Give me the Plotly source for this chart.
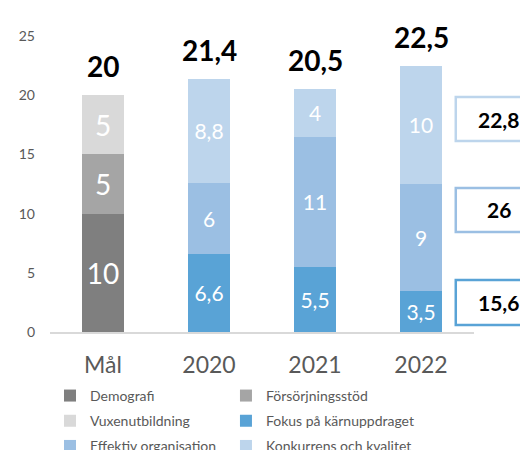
import plotly.graph_objects as go

categories = ["Mål", "2020", "2021", "2022"]
series_names = ["Demografi", "Försörjningsstöd", "Vuxenutbildning",
                "Fokus på kärnuppdraget", "Effektiv organisation", "Konkurrens och kvalitet"]
demografi = [10, None, None, None]
forsorjning = [5, None, None, None]
vuxen = [5, None, None, None]
fokus = [None, 6.6, 5.5, 3.5]
effektiv = [None, 6, 11, 9]
konkurrens = [None, 8.8, 4, 10]
totals = [20, 21.4, 20.5, 22.5]
box_values = [22.8, 26, 15.6]

colors = ["#7F7F7F", "#A5A5A5", "#D9D9D9", "#59A3D6", "#9BBFE3", "#BDD5EC"]
box_colors = ["#BDD5EC", "#9BBFE3", "#59A3D6"]
series = [demografi, forsorjning, vuxen, fokus, effektiv, konkurrens]
legend_ids = ["legend", "legend2", "legend", "legend2", "legend", "legend2"]
FONT = "Lato"


def fmt(v):
    if v is None:
        return ""
    return ("%g" % v).replace(".", ",")


fig = go.Figure()
for i, (name, vals) in enumerate(zip(series_names, series)):
    fig.add_trace(go.Bar(
        name=name, x=categories, y=vals,
        marker=dict(color=colors[i], line=dict(width=0)),
        text=[fmt(v) for v in vals],
        textposition="inside", insidetextanchor="middle",
        constraintext="none", textangle=0,
        textfont=dict(color="white", size=28 if i < 3 else 21, family=FONT),
        width=0.4, legend=legend_ids[i], legendgroup="g%d" % i,
        hoverinfo="skip",
    ))

for idx, t in enumerate(totals):
    fig.add_annotation(x=idx, y=t, text="<b>%s</b>" % fmt(t), showarrow=False,
                       yanchor="bottom", yshift=10,
                       font=dict(size=28, color="black", family=FONT))

box_y = [(16.13, 19.85), (8.45, 12.16), (0.59, 4.39)]
for (y0, y1), v, bc in zip(box_y, box_values, box_colors):
    fig.add_shape(type="rect", xref="paper", yref="y", x0=0.957, x1=1.4,
                  y0=y0, y1=y1, line=dict(color=bc, width=2.5),
                  fillcolor="white")
    fig.add_annotation(xref="paper", yref="y", x=1.058, y=(y0 + y1) / 2,
                       text="<b>%s</b>" % fmt(v), showarrow=False,
                       xanchor="center", yanchor="middle",
                       font=dict(size=21, color="black", family=FONT))

leg_common = dict(orientation="v", xanchor="left", yanchor="top",
                  tracegroupgap=4,
                  font=dict(size=14, color="#595959", family=FONT),
                  bgcolor="rgba(0,0,0,0)", traceorder="grouped")

fig.update_layout(
    width=528, height=450,
    margin=dict(l=42, r=62, t=28, b=126, autoexpand=False),
    paper_bgcolor="white", plot_bgcolor="white",
    barmode="stack",
    showlegend=True,
    font=dict(family=FONT, color="#595959"),
    xaxis=dict(type="category", range=[-0.5, 3.5], showline=True,
               linecolor="#D9D9D9", linewidth=1.5,
               ticks="", tickfont=dict(size=23, color="#595959", family=FONT),
               ticklabelstandoff=12, showgrid=False),
    yaxis=dict(range=[0, 25], tickvals=[0, 5, 10, 15, 20, 25], showgrid=False,
               showline=False, zeroline=False, ticks="",
               tickfont=dict(size=14, color="#595959", family=FONT),
               ticklabelstandoff=14),
    legend=dict(x=0.0, y=-0.162, **leg_common),
    legend2=dict(x=0.415, y=-0.162, **leg_common),
)

fig.write_html("out.html")
